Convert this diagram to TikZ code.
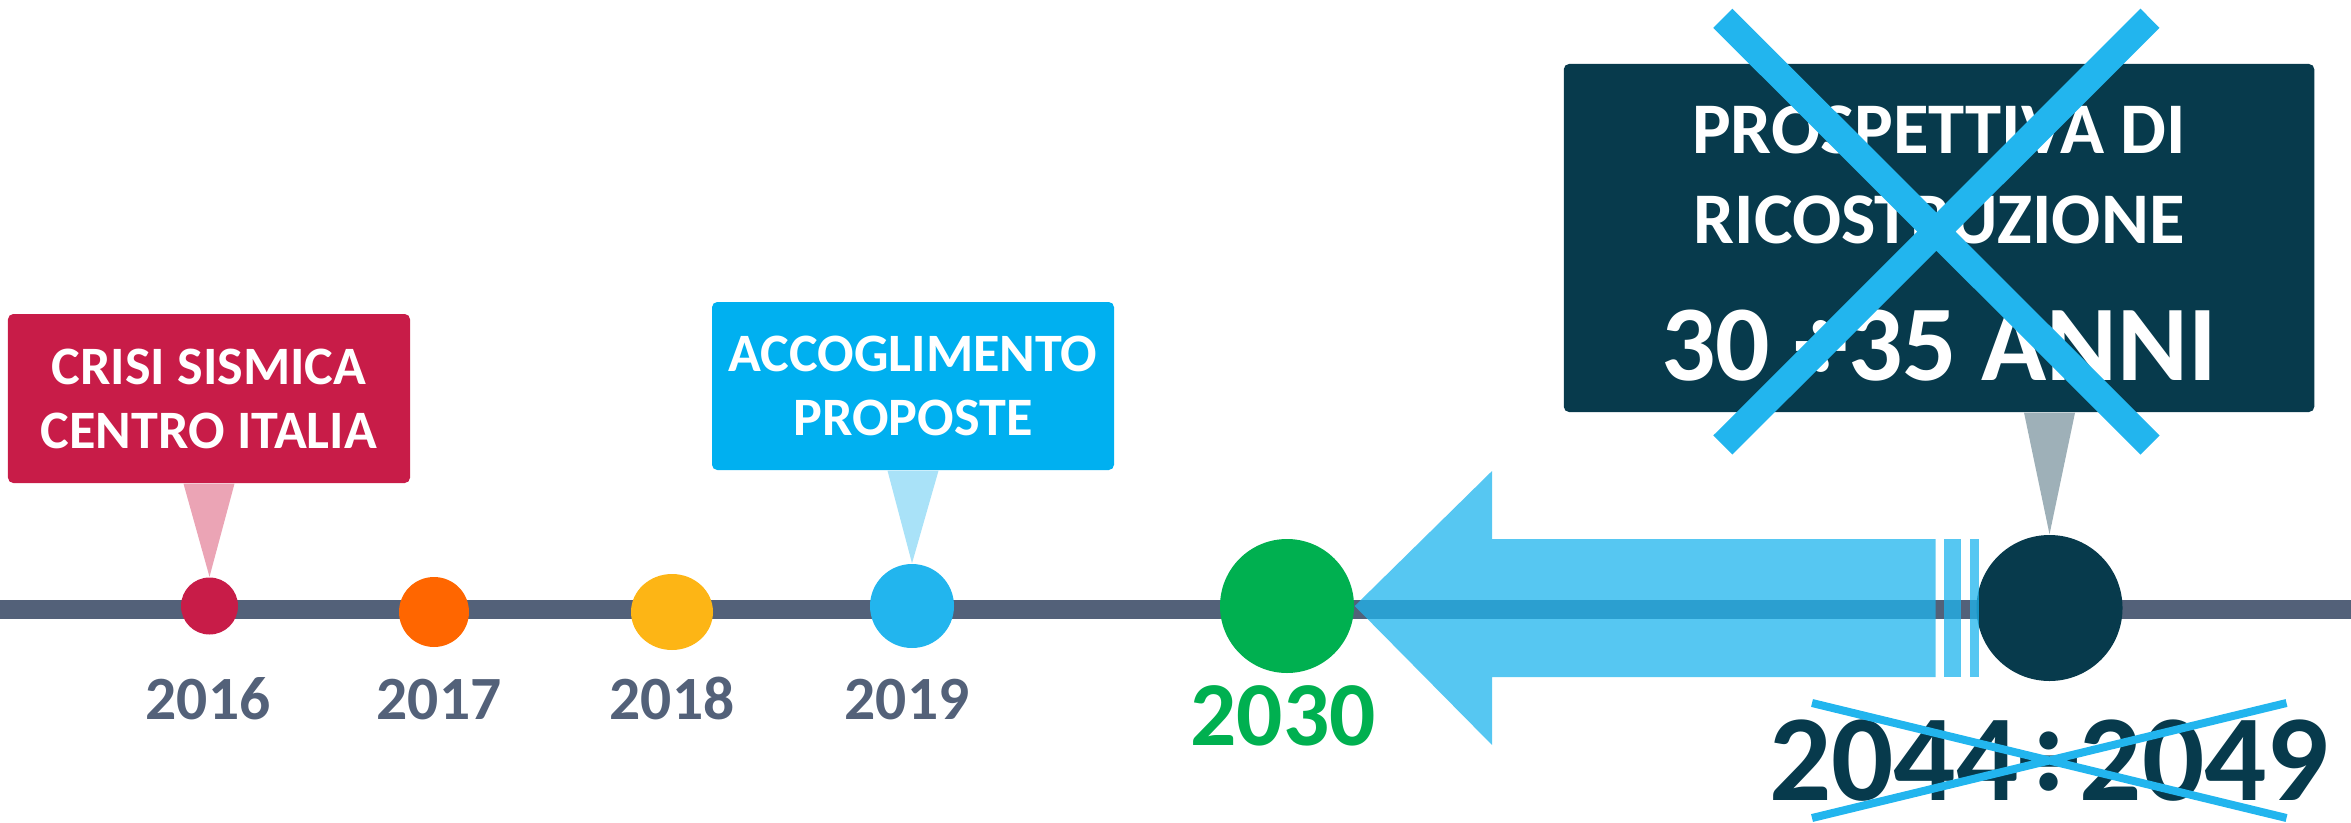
\documentclass[tikz,border=0pt]{standalone}
\usepackage{fontspec}
\setmainfont{Carlito}
\usetikzlibrary{shapes.geometric}
\definecolor{lineGray}{RGB}{83,97,121}
\definecolor{quakeRed}{RGB}{200,28,72}
\definecolor{quakePink}{RGB}{235,164,181}
\definecolor{yearOrange}{RGB}{255,102,0}
\definecolor{yearGold}{RGB}{253,181,21}
\definecolor{skyBlue}{RGB}{34,181,238}
\definecolor{boxBlue}{RGB}{0,176,240}
\definecolor{paleBlue}{RGB}{169,226,248}
\definecolor{goalGreen}{RGB}{0,176,80}
\definecolor{deepTeal}{RGB}{7,58,76}
\definecolor{tealGray}{RGB}{158,176,184}
\definecolor{arrowBlue}{RGB}{30,180,238}

\begin{document}
\begin{tikzpicture}[
    callout/.style={rectangle, rounded corners=1.5pt, text=white, align=center, inner sep=0pt,
        font=\bfseries\fontsize{15.4}{18.2}\selectfont},
    milestone/.style={circle, inner sep=0pt},
    yearlabel/.style={anchor=base, inner sep=0pt, text=lineGray, font=\bfseries\fontsize{17.5}{20}\selectfont}
]
                \useasboundingbox (0,0) rectangle (23.51,8.22);

                \draw[lineGray, line width=0.19cm] (0,2.125) -- (23.51,2.125);

                \node[callout, fill=quakeRed, minimum width=4.02cm, minimum height=1.69cm] (crisis) at (2.09,4.235) {CRISI SISMICA\\CENTRO ITALIA};
                \node[callout, fill=boxBlue, minimum width=4.02cm, minimum height=1.68cm] (accept) at (9.13,4.36) {ACCOGLIMENTO\\PROPOSTE};
                \node[callout, fill=deepTeal, minimum width=7.505cm, minimum height=3.48cm,
                    font=\bfseries\fontsize{20.7}{25.6}\selectfont] (outlook) at (19.39,5.84)
                    {\rule{0pt}{16.8pt}PROSPETTIVA DI\\RICOSTRUZIONE\\[13.4pt]{\fontsize{30.6}{36}\selectfont 30 ÷35 ANNI}};

                \node[milestone, fill=quakeRed, minimum size=0.57cm] (m16) at (2.095,2.16) {};
                \node[milestone, fill=yearOrange, minimum size=0.70cm] (m17) at (4.34,2.10) {};
                \node[milestone, ellipse, fill=yearGold, minimum width=0.82cm, minimum height=0.76cm] (m18) at (6.72,2.10) {};
                \node[milestone, fill=skyBlue, minimum size=0.84cm] (m19) at (9.12,2.16) {};
                \node[milestone, fill=goalGreen, minimum size=1.34cm] (m30) at (12.87,2.16) {};
                \node[milestone, fill=deepTeal, minimum size=1.46cm] (m49) at (20.495,2.14) {};

                \coordinate (peg) at (m49 |- outlook.south);
                \fill[quakePink] ([xshift=-0.255cm]crisis.south) -- ([xshift=0.255cm]crisis.south) -- (m16.north) -- cycle;
                \fill[paleBlue] ([xshift=-0.255cm]accept.south) -- ([xshift=0.255cm]accept.south) -- (m19.north) -- cycle;
                \fill[tealGray] ([xshift=-0.255cm]peg) -- ([xshift=0.255cm]peg) -- (m49.north) -- cycle;

                \fill[arrowBlue, fill opacity=0.75] (m30.east) -- (14.92,3.51) -- (14.92,2.83) -- (19.355,2.83)
                    -- (19.355,1.45) -- (14.92,1.45) -- (14.92,0.77) -- cycle;
                \fill[arrowBlue, fill opacity=0.75] (19.44,1.45) rectangle (19.61,2.83);
                \fill[arrowBlue, fill opacity=0.75] (19.70,1.45) rectangle (19.785,2.83);

                \node[yearlabel] (y16) at (2.08,1.03) {2016};
                \node[yearlabel] (y17) at (4.39,1.03) {2017};
                \node[yearlabel] (y18) at (6.72,1.03) {2018};
                \node[yearlabel] (y19) at (9.07,1.03) {2019};
                \node[yearlabel, text=goalGreen, font=\bfseries\fontsize{26}{30}\selectfont] (y30) at (12.83,0.77) {2030};
                \node[yearlabel, text=deepTeal, font=\bfseries\fontsize{35}{40}\selectfont] (y49) at (20.49,0.22) {2044÷2049};

                \draw[skyBlue, line width=0.27cm] (17.228,8.037) -- (21.50,3.77) (21.50,8.037) -- (17.228,3.77);
                \draw[skyBlue, line width=0.08cm] (18.12,1.19) -- (22.865,0.04) (18.12,0.04) -- (22.865,1.19);
\end{tikzpicture}
\end{document}
